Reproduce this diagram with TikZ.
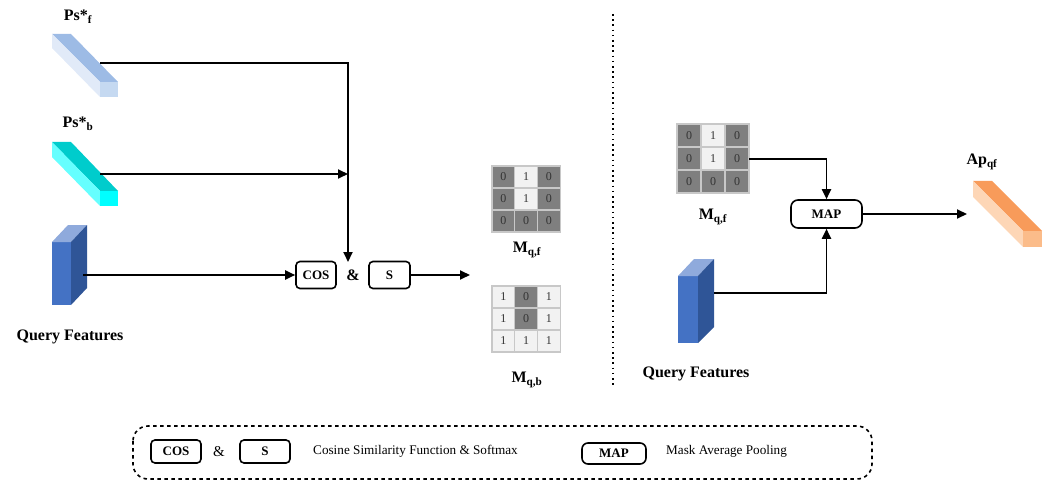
\documentclass[tikz,border=0pt]{standalone}
\usepackage{fontspec}
\setmainfont{Liberation Serif}
\usetikzlibrary{arrows.meta}
\definecolor{psftop}{HTML}{9DBBE5}
\definecolor{psfside}{HTML}{E1EAF8}
\definecolor{psfend}{HTML}{C5D9F1}
\definecolor{psbtop}{HTML}{00CCCC}
\definecolor{psbside}{HTML}{66FFFF}
\definecolor{psbend}{HTML}{00FFFF}
\definecolor{qffront}{HTML}{4472C4}
\definecolor{qftop}{HTML}{8FAADC}
\definecolor{qfside}{HTML}{2F5597}
\definecolor{aptop}{HTML}{F89B5A}
\definecolor{apside}{HTML}{FDD6B6}
\definecolor{apend}{HTML}{FBBC8A}
\definecolor{cellzero}{HTML}{7F7F7F}
\definecolor{cellone}{HTML}{F2F2F2}
\definecolor{gridgray}{HTML}{C8C8C8}
\definecolor{digit}{HTML}{333333}
\tikzset{
  conn/.style={line width=1.9pt, -{Triangle[length=10pt,width=9pt]}},
  opbox/.style={draw, line width=1.6pt, rounded corners=4pt, inner sep=0pt,
    font=\fontsize{13}{15}\selectfont\bfseries},
  lbl/.style={font=\fontsize{16}{18}\selectfont\bfseries, inner sep=0pt},
  legtxt/.style={font=\fontsize{13.2}{15}\selectfont, inner sep=0pt, anchor=west},
  cellbox/.style={draw=gridgray, line width=1.2pt},
  celltxt/.style={font=\fontsize{12}{14}\selectfont, text=digit, inner sep=0pt},
}
\newcommand\gridmat[6]{%
  \node[inner sep=0pt, minimum width={3*#4pt}, minimum height={3*#5pt}, anchor=north west] (#1) at (#2,#3) {};
  \foreach \v [count=\k from 0] in {#6} {
    \pgfmathtruncatemacro\rr{\k/3}
    \pgfmathtruncatemacro\cc{\k-3*\rr}
    \ifnum\v=0 \def\cf{cellzero}\else\def\cf{cellone}\fi
    \filldraw[cellbox, fill=\cf] ({#2+\cc*#4},{#3+\rr*#5}) rectangle ++(#4,#5);
    \node[celltxt] at ({#2+(\cc+0.5)*#4},{#3+(\rr+0.5)*#5}) {\v};
  }
}
\begin{document}
\begin{tikzpicture}[x=1pt,y=-1pt]
\useasboundingbox (0,0) rectangle (1051,481);

% ---- Ps*_f bar
\fill[psftop] (52,34) -- (71,34) -- (118,82) -- (100,82) -- cycle;
\fill[psfside] (52,34) -- (100,82) -- (100,97) -- (52,48) -- cycle;
\fill[psfend] (100,82) rectangle (118,97);
\node[lbl] (psflbl) at (78,17) {Ps*\textsubscript{f}};
\coordinate (psf-out) at (100,63);

% ---- Ps*_b bar
\fill[psbtop] (52,142) -- (71,142) -- (118,191) -- (100,191) -- cycle;
\fill[psbside] (52,142) -- (100,191) -- (100,206) -- (52,157) -- cycle;
\fill[psbend] (100,191) rectangle (118,206);
\node[lbl] (psblbl) at (78,124) {Ps*\textsubscript{b}};
\coordinate (psb-out) at (100,174);

% ---- Query features (left)
\fill[qffront] (52,242) rectangle (71,305);
\fill[qftop] (52,242) -- (71,242) -- (87,225) -- (68,225) -- cycle;
\fill[qfside] (71,242) -- (87,225) -- (87,288) -- (71,305) -- cycle;
\node[lbl] (qflbl) at (70,337) {Query Features};
\coordinate (qf-out) at (83,275);

% ---- operations
\node[opbox, minimum width=40pt, minimum height=27pt] (cos) at (316,275) {COS};
\node[lbl] (amp) at (353,275) {\&};
\node[opbox, minimum width=41pt, minimum height=27pt] (sm) at (389.5,275) {S};
\coordinate (join) at (348,262);
\coordinate (s-end) at (470,275);

\draw[line width=1.9pt] (psf-out) -| (348,200);
\draw[conn] (348,199) -- (join);
\draw[conn] (psb-out) -- (psb-out -| join);
\draw[conn] (qf-out) -- (cos.west);
\draw[conn] (sm.east) -- (s-end);

% ---- left matrices
\gridmat{mqfL}{492}{166}{22.7}{22}{0,1,0,0,1,0,0,0,0}
\node[lbl] (mqfLlbl) at (527,250) {M\textsubscript{q,f}};
\gridmat{mqbL}{492}{286}{22.7}{22}{1,0,1,1,0,1,1,1,1}
\node[lbl] (mqbLlbl) at (527,380) {M\textsubscript{q,b}};

% ---- separator
\draw[line width=1.6pt, dash pattern=on 1.6pt off 3.6pt] (613,14) -- (613,388);

% ---- right side
\gridmat{mqfR}{677}{124}{24}{23}{0,1,0,0,1,0,0,0,0}
\node[lbl] (mqfRlbl) at (713,217) {M\textsubscript{q,f}};

\fill[qffront] (678,276) rectangle (698,343);
\fill[qftop] (678,276) -- (698,276) -- (714,259) -- (694,259) -- cycle;
\fill[qfside] (698,276) -- (714,259) -- (714,327) -- (698,343) -- cycle;
\node[lbl] (qfRlbl) at (696,374) {Query Features};
\coordinate (qfR-out) at (714,293);

\node[opbox, rounded corners=7pt, minimum width=71pt, minimum height=28pt] (map) at (826.5,214) {MAP};

\fill[aptop] (973,181) -- (992,181) -- (1042,231) -- (1023,231) -- cycle;
\fill[apside] (973,181) -- (1023,231) -- (1023,247) -- (973,197) -- cycle;
\fill[apend] (1023,231) rectangle (1042,247);
\node[lbl] (aplbl) at (982,162) {Ap\textsubscript{qf}};
\coordinate (ap-in) at (967,214);

\draw[conn] (mqfR.east) -| (map.north);
\draw[conn] (qfR-out) -| (map.south);
\draw[conn] (map.east) -- (ap-in);

% ---- legend
\draw[line width=1.6pt, dash pattern=on 3.5pt off 3.5pt, rounded corners=15pt] (133,426) rectangle (872,479);
\node[opbox, minimum width=50pt, minimum height=23pt] (lcos) at (176,451.5) {COS};
\node[font=\fontsize{15}{17}\selectfont, inner sep=0pt] (lamp) at (219,451.5) {\&};
\node[opbox, minimum width=50pt, minimum height=23pt] (ls) at (265,451.5) {S};
\node[legtxt] (ltxt1) at (313,451.5) {Cosine Similarity Function \& Softmax};
\node[opbox, rounded corners=6pt, minimum width=64pt, minimum height=21pt] (lmap) at (614,453.5) {MAP};
\node[legtxt] (ltxt2) at (666,451.5) {Mask Average Pooling};
\end{tikzpicture}
\end{document}
